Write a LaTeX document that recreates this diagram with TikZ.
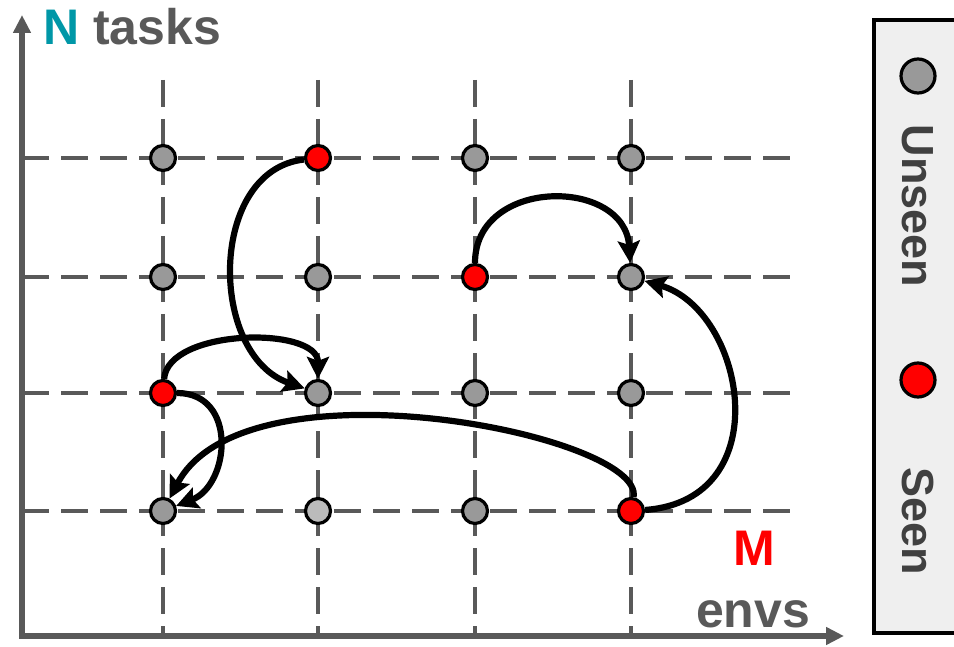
\documentclass[tikz,border=0pt]{standalone}
\usepackage{fontspec}
\setmainfont{Liberation Sans}
\usetikzlibrary{arrows.meta}
\definecolor{axisgray}{HTML}{595959}
\definecolor{dotgray}{HTML}{999999}
\definecolor{dotlight}{HTML}{BBBBBB}
\definecolor{seenred}{HTML}{FF0000}
\definecolor{ntteal}{HTML}{0097A7}
\definecolor{legendbg}{HTML}{EFEFEF}
\definecolor{legendink}{HTML}{404040}

\begin{document}
\begin{tikzpicture}[x=1pt,y=-1pt,
  gridline/.style={axisgray, line width=3.6pt, dash pattern=on 27pt off 12pt},
  axistip/.tip={Triangle[length=18pt,width=17pt]},
  dot/.style={circle, draw=black, line width=3.2pt, minimum size=25pt, inner sep=0pt, fill=dotgray},
  seen/.style={dot, fill=seenred},
  faint/.style={dot, fill=dotlight},
  link/.style={black, line width=6.2pt, -{Stealth[length=22pt,width=22pt,inset=4pt]}},
  bigtext/.style={font=\bfseries\fontsize{50}{50}\selectfont, inner sep=0pt},
  keytext/.style={font=\bfseries\fontsize{45}{45}\selectfont, text=legendink, inner sep=0pt, rotate=-90}
]
\useasboundingbox (0,0) rectangle (954,647);

% dashed grid
\foreach \gx in {163,318,475,631}
  \draw[gridline] (\gx,80) -- (\gx,636);
\foreach \gy in {158,277,393,511}
  \draw[gridline] (22,\gy) -- (792,\gy);

% axes
\draw[axisgray, line width=5.5pt, line join=miter, {axistip}-{axistip}]
  (22,15) -- (22,636) -- (844,636);

% axis labels
\node[bigtext, anchor=base west] (ylabel) at (43,45)
  {\textcolor{ntteal}{N} \textcolor{axisgray}{tasks}};
\node[bigtext, anchor=base, text=seenred] (mlabel) at (754,565) {M};
\node[bigtext, anchor=base, text=axisgray] (xlabel) at (753,627) {envs};

% task / environment pairs (column = env, row = task, row 1 at the bottom)
\node[dot]   (n11) at (163,511) {};
\node[faint] (n21) at (318,511) {};
\node[dot]   (n31) at (475,511) {};
\node[seen]  (n41) at (631,511) {};
\node[seen]  (n12) at (163,393) {};
\node[dot]   (n22) at (318,393) {};
\node[dot]   (n32) at (475,393) {};
\node[dot]   (n42) at (631,393) {};
\node[dot]   (n13) at (163,277) {};
\node[dot]   (n23) at (318,277) {};
\node[seen]  (n33) at (475,277) {};
\node[dot]   (n43) at (631,277) {};
\node[dot]   (n14) at (163,158) {};
\node[seen]  (n24) at (318,158) {};
\node[dot]   (n34) at (475,158) {};
\node[dot]   (n44) at (631,158) {};

% transfer arrows
\draw[link] (n24) .. controls (208,170) and (208,355) .. (n22);
\draw[link] (n12) .. controls (168,328) and (318,326) .. (n22);
\draw[link] (n12) .. controls (238,393) and (230,485) .. (n11);
\draw[link] (n41) .. controls (645,435) and (245,355) .. (n11);
\draw[link] (n41) .. controls (780,500) and (745,310) .. (n43);
\draw[link] (n33) .. controls (475,177) and (625,177) .. (n43);

% legend panel, open on its right where it meets the page edge
\fill[legendbg] (874,20) rectangle (954,633);
\draw[line width=3.2pt, line join=miter] (954,20) -- (874,20) -- (874,633) -- (954,633);
\node[dot, minimum size=34pt]  (keyunseen) at (918,76) {};
\node[seen, minimum size=34pt] (keyseen)   at (918,380) {};
\node[keytext] (lblunseen) at (918,206) {Unseen};
\node[keytext] (lblseen)   at (918,521) {Seen};
\end{tikzpicture}
\end{document}
